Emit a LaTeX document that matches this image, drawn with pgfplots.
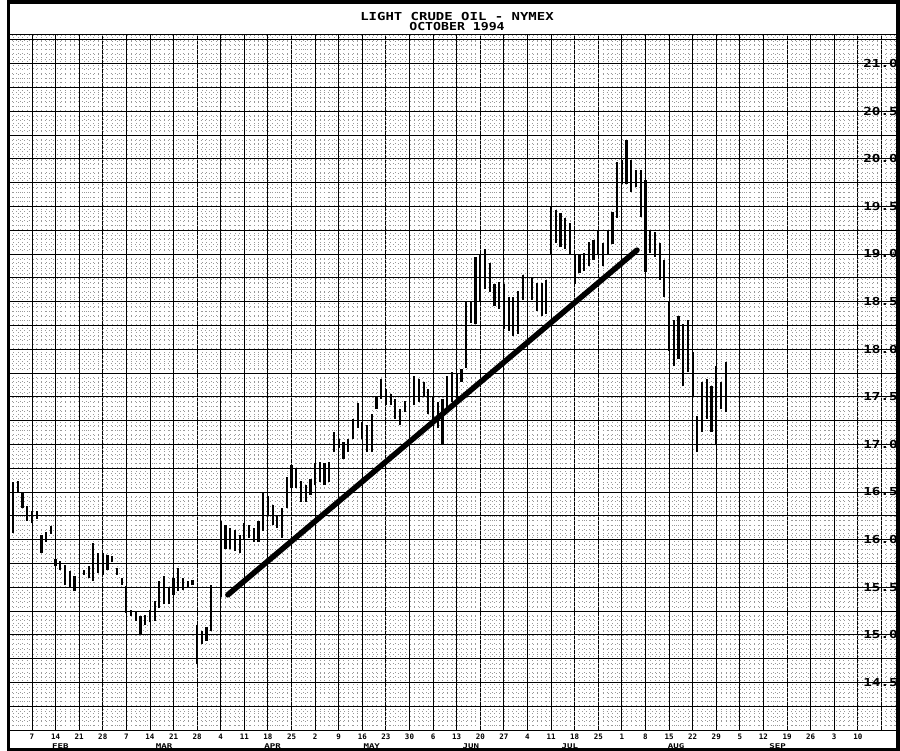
\documentclass[border=0pt]{standalone}
\usepackage{fontspec}
\usepackage{graphicx}
\usepackage{pgfplots}
\usepackage{pgfplotstable}
\pgfplotsset{compat=1.18}
\newfontfamily\pf{DejaVu Sans Mono}
\newcommand\fs[1]{\fontsize{#1}{#1}\selectfont}
\newcommand\wide[2]{\scalebox{#1}[1]{#2}}

% trading day index (0 = Mon 7 Feb 1994), high, low
\pgfplotstableread{
d h l
-4 16.60 16.07
-3 16.62 16.50
-2 16.50 16.33
-1 16.35 16.20
0 16.30 16.17
1 16.30 16.22
2 16.05 15.86
3 16.08 15.98
4 16.14 16.06
5 15.80 15.72
6 15.78 15.68
7 15.73 15.52
8 15.67 15.50
9 15.62 15.46
11 15.68 15.63
12 15.72 15.60
13 15.96 15.57
14 15.86 15.65
15 15.86 15.63
16 15.84 15.68
17 15.83 15.76
18 15.70 15.63
19 15.60 15.52
20 15.51 15.23
21 15.26 15.20
22 15.25 15.15
23 15.20 15.00
24 15.21 15.10
25 15.26 15.13
26 15.36 15.15
27 15.57 15.28
28 15.62 15.32
29 15.50 15.32
30 15.60 15.42
31 15.70 15.46
32 15.60 15.47
33 15.57 15.50
34 15.58 15.52
35 15.10 14.69
36 15.04 14.90
37 15.08 14.94
38 15.52 15.04
40 16.20 15.40
41 16.15 15.90
42 16.12 15.90
43 16.10 15.88
44 16.05 15.86
45 16.17 16.00
46 16.15 16.02
47 16.12 15.98
48 16.20 15.98
49 16.50 16.09
50 16.46 16.26
51 16.36 16.15
52 16.25 16.12
53 16.33 16.02
54 16.66 16.33
55 16.78 16.54
56 16.75 16.54
57 16.62 16.40
58 16.57 16.40
59 16.64 16.47
60 16.80 16.57
61 16.82 16.61
62 16.80 16.57
63 16.82 16.61
64 17.13 16.92
65 17.06 16.96
66 17.03 16.85
67 17.06 16.92
68 17.27 17.06
69 17.43 17.17
70 17.24 17.06
71 17.20 16.92
72 17.32 16.92
73 17.50 17.37
74 17.69 17.48
75 17.58 17.41
76 17.53 17.41
77 17.48 17.27
78 17.37 17.20
79 17.46 17.34
81 17.72 17.41
82 17.69 17.45
83 17.66 17.51
84 17.58 17.32
85 17.50 17.27
86 17.45 17.17
87 17.48 17.00
88 17.72 17.35
89 17.76 17.45
90 17.74 17.48
91 17.79 17.66
92 18.50 17.80
93 18.50 18.28
94 18.97 18.26
95 18.99 18.50
96 19.05 18.63
97 18.91 18.60
98 18.68 18.45
99 18.71 18.42
100 18.68 18.21
101 18.55 18.19
102 18.55 18.14
103 18.61 18.16
104 18.78 18.52
106 18.75 18.52
107 18.70 18.40
108 18.70 18.35
109 18.73 18.37
110 19.50 19.00
111 19.46 19.12
112 19.43 19.07
113 19.38 19.05
114 19.33 18.99
115 18.99 18.68
116 18.99 18.80
117 19.01 18.82
118 19.13 18.87
119 19.15 18.94
120 19.25 18.99
121 19.12 18.87
122 19.25 18.99
123 19.44 19.10
124 19.97 19.38
125 19.99 19.73
126 20.20 19.73
127 19.99 19.65
128 19.88 19.70
129 19.88 19.39
130 19.78 18.81
131 19.25 19.01
132 19.23 18.97
133 19.12 18.73
134 18.94 18.55
135 18.50 17.98
136 18.31 17.82
137 18.35 17.90
138 18.26 17.61
139 18.31 17.76
140 17.97 17.51
141 17.30 16.92
142 17.66 17.13
143 17.69 17.27
144 17.61 17.13
145 17.82 16.99
146 17.66 17.37
147 17.87 17.34
}\bars

\begin{document}
\begin{tikzpicture}
\useasboundingbox (0,0) rectangle (900bp,751bp);
\begin{axis}[
  at={(8bp,21bp)}, anchor=south west,
  width=889bp, height=696bp, scale only axis,
  xmin=-5.08, xmax=183.3, ymin=14.0, ymax=21.31,
  clip=false,
  axis line style={black, line width=0.9bp},
  xtick={0,5,...,180},
  xticklabels={7,14,21,28,7,14,21,28,4,11,18,25,2,9,16,23,30,6,13,20,27,4,11,18,25,1,8,15,22,29,5,12,19,26,3,10,{}},
  minor xtick={-5,-4,...,183},
  ytick={14.5,15,...,21},
  yticklabels={\wide{1.3}{14.5},\wide{1.3}{15.0},\wide{1.3}{15.5},\wide{1.3}{16.0},\wide{1.3}{16.5},\wide{1.3}{17.0},\wide{1.3}{17.5},\wide{1.3}{18.0},\wide{1.3}{18.5},\wide{1.3}{19.0},\wide{1.3}{19.5},\wide{1.3}{20.0},\wide{1.3}{20.5},\wide{1.3}{21.0}},
  yticklabel pos=right,
  minor ytick={14.05,14.1,...,21.3},
  extra y ticks={14.25,14.75,...,21.25},
  extra y tick labels={},
  extra y tick style={grid=major},
  grid=both,
  major grid style={black, line width=0.9bp},
  minor grid style={black!40, line width=0.4bp, dash pattern=on 0.5bp off 3.6bp},
  major tick length=0pt, minor tick length=0pt,
  xticklabel style={font=\pf\bfseries\fs{7.5bp}, anchor=center, inner sep=0pt, yshift=-7bp},
  yticklabel style={font=\pf\bfseries\fs{11bp}, anchor=east, inner sep=0pt, xshift=1bp},
]
\addplot[black, line width=2.2bp, -, quiver={u=0, v=\thisrow{h}-\thisrow{l}}]
  table[x=d, y=l] {\bars};

\addplot[black, line width=5.5bp, line cap=round] coordinates {(41.5,15.42) (128.2,19.04)};

% month separators and names
\foreach \s in {-4,16,39,60,82,104,125,148,170}{
  \edef\tmp{\noexpand\draw[line width=0.9bp] (axis cs:\s,14) ++(0,-9bp) -- ++(0,-12bp);}\tmp
}
\node[font=\pf\bfseries\fs{6.5bp}] at (axis cs:6,14) [yshift=-16bp] {\wide{1.4}{FEB}};
\node[font=\pf\bfseries\fs{6.5bp}] at (axis cs:28,14) [yshift=-16bp] {\wide{1.4}{MAR}};
\node[font=\pf\bfseries\fs{6.5bp}] at (axis cs:51,14) [yshift=-16bp] {\wide{1.4}{APR}};
\node[font=\pf\bfseries\fs{6.5bp}] at (axis cs:72,14) [yshift=-16bp] {\wide{1.4}{MAY}};
\node[font=\pf\bfseries\fs{6.5bp}] at (axis cs:93,14) [yshift=-16bp] {\wide{1.4}{JUN}};
\node[font=\pf\bfseries\fs{6.5bp}] at (axis cs:114,14) [yshift=-16bp] {\wide{1.4}{JUL}};
\node[font=\pf\bfseries\fs{6.5bp}] at (axis cs:136.5,14) [yshift=-16bp] {\wide{1.4}{AUG}};
\node[font=\pf\bfseries\fs{6.5bp}] at (axis cs:158,14) [yshift=-16bp] {\wide{1.4}{SEP}};
\end{axis}
\node[font=\pf\bfseries\fs{11bp}, anchor=base, inner sep=0pt] at (457bp,730.3bp) {\wide{1.27}{LIGHT CRUDE OIL - NYMEX}};
\node[font=\pf\bfseries\fs{11bp}, anchor=base, inner sep=0pt] at (457bp,720.3bp) {\wide{1.2}{OCTOBER 1994}};
\draw[line width=3.5bp] (8.5bp,1.5bp) rectangle (898bp,749bp);
\end{tikzpicture}
\end{document}
